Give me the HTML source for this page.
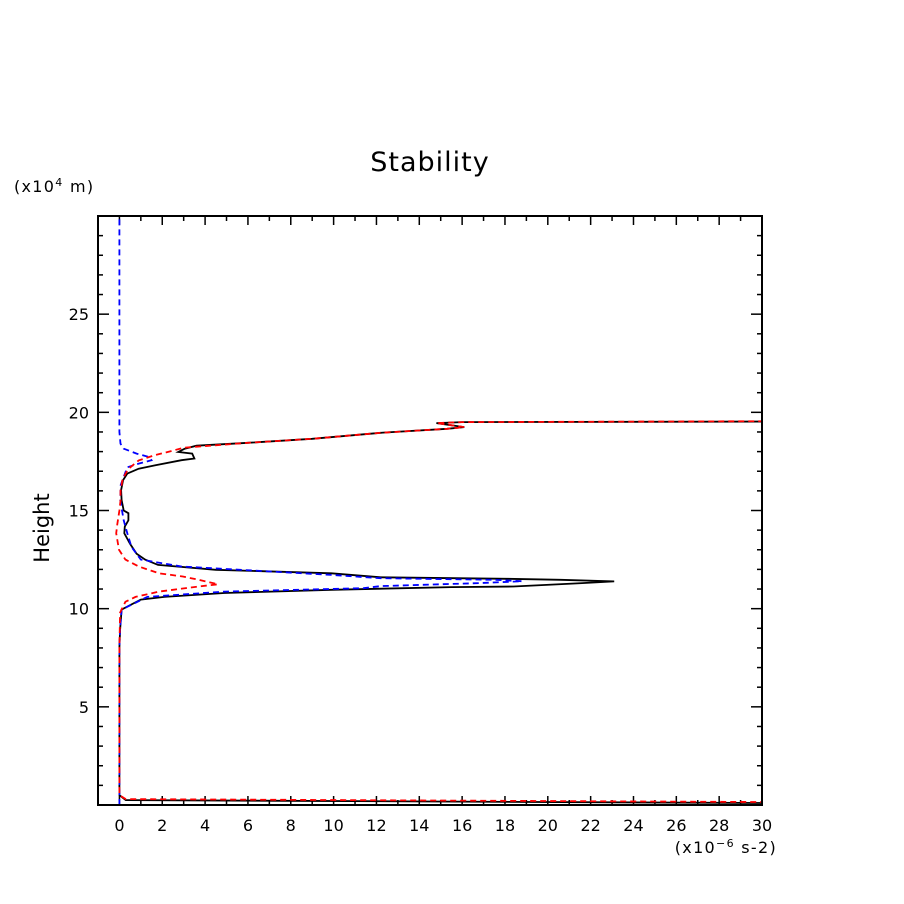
<!DOCTYPE html>
<html><head><meta charset="utf-8"><style>
body{margin:0;background:#fff}
svg{display:block;font-family:"DejaVu Sans","Liberation Sans",sans-serif}
</style></head><body>
<svg id="chart" width="904" height="904" viewBox="0 0 904 904">
<rect x="0" y="0" width="904" height="904" fill="#fff"/>
<text x="430" y="171" font-size="27" text-anchor="middle" letter-spacing="1">Stability</text>
<text x="14" y="192" font-size="16" letter-spacing="1.3">(x10<tspan dy="-6" font-size="11">4</tspan><tspan dy="6"> m)</tspan></text>
<text x="777" y="853" font-size="16" text-anchor="end" letter-spacing="1.3">(x10<tspan dy="-6" font-size="11">−6</tspan><tspan dy="6"> s-2)</tspan></text>
<text transform="translate(49,528) rotate(-90)" font-size="21" text-anchor="middle">Height</text>
<defs><clipPath id="pc"><rect x="98" y="216" width="664" height="589"/></clipPath></defs>
<g id="ticks"></g>
<g id="series" clip-path="url(#pc)"></g>
<rect x="98" y="216" width="664" height="589" fill="none" stroke="#000" stroke-width="2"/>
</svg>
<script>
const xTicks=[0,2,4,6,8,10,12,14,16,18,20,22,24,26,28,30];
const yTicks=[5,10,15,20,25];
const blackV=[40,0.3,0,0,0.03,0.1,1.0,2.1,4.9,9.9,15.5,18.4,21.6,23.1,20.6,18.1,12.2,9.9,4.5,1.8,1.2,0.8,0.5,0.23,0.25,0.42,0.42,0.2,0.1,0.08,0.17,0.37,0.9,1.68,2.9,3.5,3.4,2.75,3.05,3.6,6,9,12.2,15.3,16.1,14.8,16,40];
const blackH=[0.05,0.25,0.5,8,8.93,9.95,10.46,10.6,10.8,10.96,11.1,11.13,11.3,11.39,11.47,11.52,11.6,11.8,11.98,12.23,12.5,12.8,13.3,13.84,14.18,14.5,14.86,15.0,15.53,16.04,16.55,16.88,17.13,17.3,17.56,17.65,17.9,17.98,18.15,18.3,18.45,18.65,18.96,19.16,19.25,19.45,19.5,19.55];
const redV=[40,0.3,0,0,0.03,0.28,0.75,1.85,3.7,4.6,3.7,2.96,1.85,0.9,0.28,-0.02,-0.15,-0.1,0.0,0.05,0.05,0.15,0.4,0.9,1.6,2.5,3.0,6,9,12.2,15.3,16.1,14.8,16,40];
const redH=[0.1,0.3,0.5,8,9.8,10.35,10.6,10.87,11.13,11.24,11.47,11.64,11.8,12.15,12.5,13.0,13.84,14.3,15.0,15.5,16.0,16.6,17.1,17.55,17.8,18.05,18.2,18.45,18.65,18.96,19.16,19.25,19.45,19.5,19.58];
const blueV=[0,0,0.03,0.1,1.3,4.9,11.4,12.2,16.8,18.8,17.5,12.2,9.9,2.9,1.0,0.56,0.37,0.2,0.04,0.06,0.37,0.9,1.5,1.4,0.8,0.2,0.05,0,0];
const blueH=[0,8,9.0,9.95,10.6,10.87,11.04,11.15,11.3,11.4,11.47,11.55,11.72,12.15,12.5,13.15,13.84,14.5,15.5,16.3,17.2,17.39,17.56,17.72,17.9,18.15,18.4,19,31];
const X0=-1,X1=30,Y0=0,Y1=30,L=98,R=762,T=216,B=805;
const sx=v=>L+(v-X0)/(X1-X0)*(R-L);
const sy=v=>B-(v-Y0)/(Y1-Y0)*(B-T);
const NS='http://www.w3.org/2000/svg';
const tg=document.getElementById('ticks');
function line(g,x1,y1,x2,y2,name){const l=document.createElementNS(NS,'line');
l.setAttribute('x1',x1);l.setAttribute('y1',y1);l.setAttribute('x2',x2);l.setAttribute('y2',y2);
l.setAttribute('stroke','#000');l.setAttribute('stroke-width','1.5');


g.appendChild(l);}
for(let v=0;v<=30;v++){const x=sx(v);const len=(v%2===0)?9:5;
line(tg,x,B,x,B-len,'x-tick');line(tg,x,T,x,T+len,'x-tick-top');}
for(let v=1;v<=29;v++){const y=sy(v);const len=(v%5===0)?11:5;
line(tg,L,y,L+len,y,'y-tick');line(tg,R,y,R-len,y,'y-tick-right');}
xTicks.forEach(v=>{const t=document.createElementNS(NS,'text');
t.setAttribute('x',sx(v));t.setAttribute('y',831);t.setAttribute('font-size','16');t.setAttribute('text-anchor','middle');


t.textContent=v;tg.appendChild(t);});
yTicks.forEach(v=>{const t=document.createElementNS(NS,'text');
t.setAttribute('x',89);t.setAttribute('y',sy(v)+6);t.setAttribute('font-size','16');t.setAttribute('text-anchor','end');


t.textContent=v;tg.appendChild(t);});
const sg=document.getElementById('series');
function series(V,H,color,dash,name){const p=document.createElementNS(NS,'polyline');
p.setAttribute('points',V.map((v,i)=>sx(v).toFixed(1)+','+sy(H[i]).toFixed(1)).join(' '));
p.setAttribute('fill','none');p.setAttribute('stroke',color);p.setAttribute('stroke-width','1.8');
if(dash)p.setAttribute('stroke-dasharray',dash);


sg.appendChild(p);}
series(blackV,blackH,'#000',null,'black-solid-series');
series(blueV,blueH,'#0000ff','6 4','blue-dashed-series');
series(redV,redH,'#ff0000','6 4','red-dashed-series');
</script>
</body></html>
